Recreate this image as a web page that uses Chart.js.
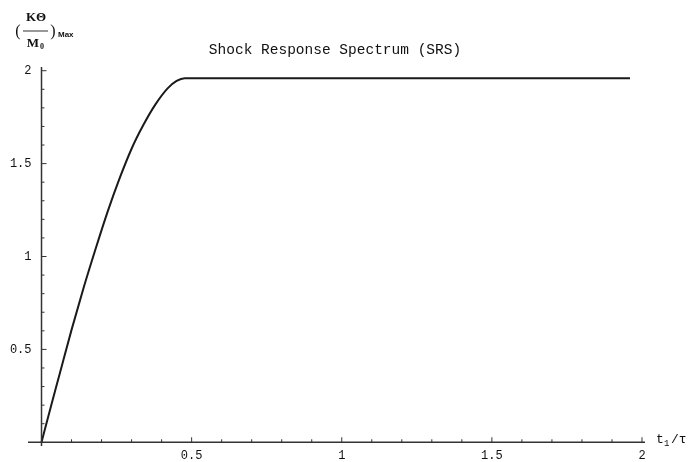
<!DOCTYPE html>
<html>
<head>
<meta charset="utf-8">
<script src="https://cdn.jsdelivr.net/npm/chart.js@4/dist/chart.umd.min.js"></script>
<style>
  html, body { margin: 0; padding: 0; background: #fff; }
  #wrap { width: 697px; height: 462px; position: relative; }
</style>
</head>
<body>
<div id="wrap"><canvas id="srs" width="697" height="462"></canvas></div>
<script>
// values
const ratio = [0, 0.03, 0.06, 0.10, 0.14, 0.18, 0.22, 0.26, 0.30, 0.34, 0.38, 0.42, 0.45, 0.477, 1.96];
const response = [0, 0.185, 0.365, 0.605, 0.83, 1.04, 1.24, 1.42, 1.58, 1.71, 1.82, 1.905, 1.945, 1.96, 1.96];

const xMajor = [0.5, 1, 1.5, 2];
const xTickLabels = ["0.5", "1", "1.5", "2"];
const yMajor = [0.5, 1, 1.5, 2];
const yTickLabels = ["0.5", "1", "1.5", "2"];

const title = "Shock Response Spectrum (SRS)";

const points = ratio.map((r, i) => ({ x: r, y: response[i] }));

// Mathematica-style axes crossing at the origin
const axesPlugin = {
    id: "axes",
    afterDatasetsDraw(chart) {
        const ctx = chart.ctx;
        const xs = chart.scales.x, ys = chart.scales.y;
        const area = chart.chartArea;
        const x0 = xs.getPixelForValue(0), y0 = ys.getPixelForValue(0);
        ctx.save();
        ctx.strokeStyle = "#333";
        ctx.lineWidth = 1.5;
        ctx.beginPath();
        ctx.moveTo(area.left, y0); ctx.lineTo(area.right, y0);
        ctx.moveTo(x0, area.bottom); ctx.lineTo(x0, area.top);
        ctx.stroke();

        ctx.lineWidth = 1;
        ctx.beginPath();
        for (let k = 1; k <= 20; k++) {
            const v = k / 10;
            const len = (k % 5 === 0) ? 5 : 3;
            const px = xs.getPixelForValue(v);
            ctx.moveTo(px, y0); ctx.lineTo(px, y0 - len);
            const py = ys.getPixelForValue(v);
            ctx.moveTo(x0, py); ctx.lineTo(x0 + len, py);
        }
        ctx.stroke();

        ctx.fillStyle = "#111";
        ctx.font = "12px 'Liberation Mono', monospace";
        ctx.textAlign = "center";
        ctx.textBaseline = "top";
        xMajor.forEach((v, i) => {
            ctx.fillText(xTickLabels[i], xs.getPixelForValue(v), y0 + 8);
        });
        ctx.textAlign = "right";
        ctx.textBaseline = "middle";
        yMajor.forEach((v, i) => {
            ctx.fillText(yTickLabels[i], x0 - 10, ys.getPixelForValue(v));
        });

        // title
        ctx.font = "14.5px 'Liberation Mono', monospace";
        ctx.textAlign = "center";
        ctx.textBaseline = "middle";
        ctx.fillText(title, 335, 50);

        // x axis label t1/τ
        ctx.textAlign = "left";
        ctx.font = "13px 'Liberation Mono', monospace";
        ctx.fillText("t", 656, 440);
        ctx.font = "9px 'Liberation Mono', monospace";
        ctx.fillText("1", 664, 444);
        ctx.font = "13px 'Liberation Mono', monospace";
        ctx.fillText("/\u03c4", 671, 440);

        // y axis label (Kθ / M0)max
        ctx.font = "bold 13px 'Liberation Serif', serif";
        ctx.textAlign = "center";
        ctx.fillText("K\u0398", 36, 18);
        ctx.fillText("M", 33, 44);
        ctx.font = "bold 8px 'Liberation Serif', serif";
        ctx.fillText("0", 42, 47);
        ctx.lineWidth = 1;
        ctx.beginPath();
        ctx.moveTo(23, 31); ctx.lineTo(48, 31);
        ctx.stroke();
        ctx.font = "16px 'Liberation Serif', serif";
        ctx.fillText("(", 18, 32);
        ctx.fillText(")", 53, 32);
        ctx.font = "bold 8px 'Liberation Sans', sans-serif";
        ctx.textAlign = "left";
        ctx.fillText("Max", 58, 35);
        ctx.restore();
    }
};

new Chart(document.getElementById("srs"), {
    type: "line",
    data: {
        datasets: [{
            data: points,
            borderColor: "#1a1a1a",
            borderWidth: 2,
            pointRadius: 0,
            fill: false,
            cubicInterpolationMode: "monotone"
        }]
    },
    options: {
        responsive: false,
        animation: false,
        layout: { padding: { left: 28, right: 52, top: 67, bottom: 16 } },
        plugins: { legend: { display: false }, tooltip: { enabled: false } },
        scales: {
            x: { type: "linear", min: -0.045, max: 2.01, display: false },
            y: { type: "linear", min: -0.02, max: 2.02, display: false }
        }
    },
    plugins: [axesPlugin]
});
</script>
</body>
</html>
